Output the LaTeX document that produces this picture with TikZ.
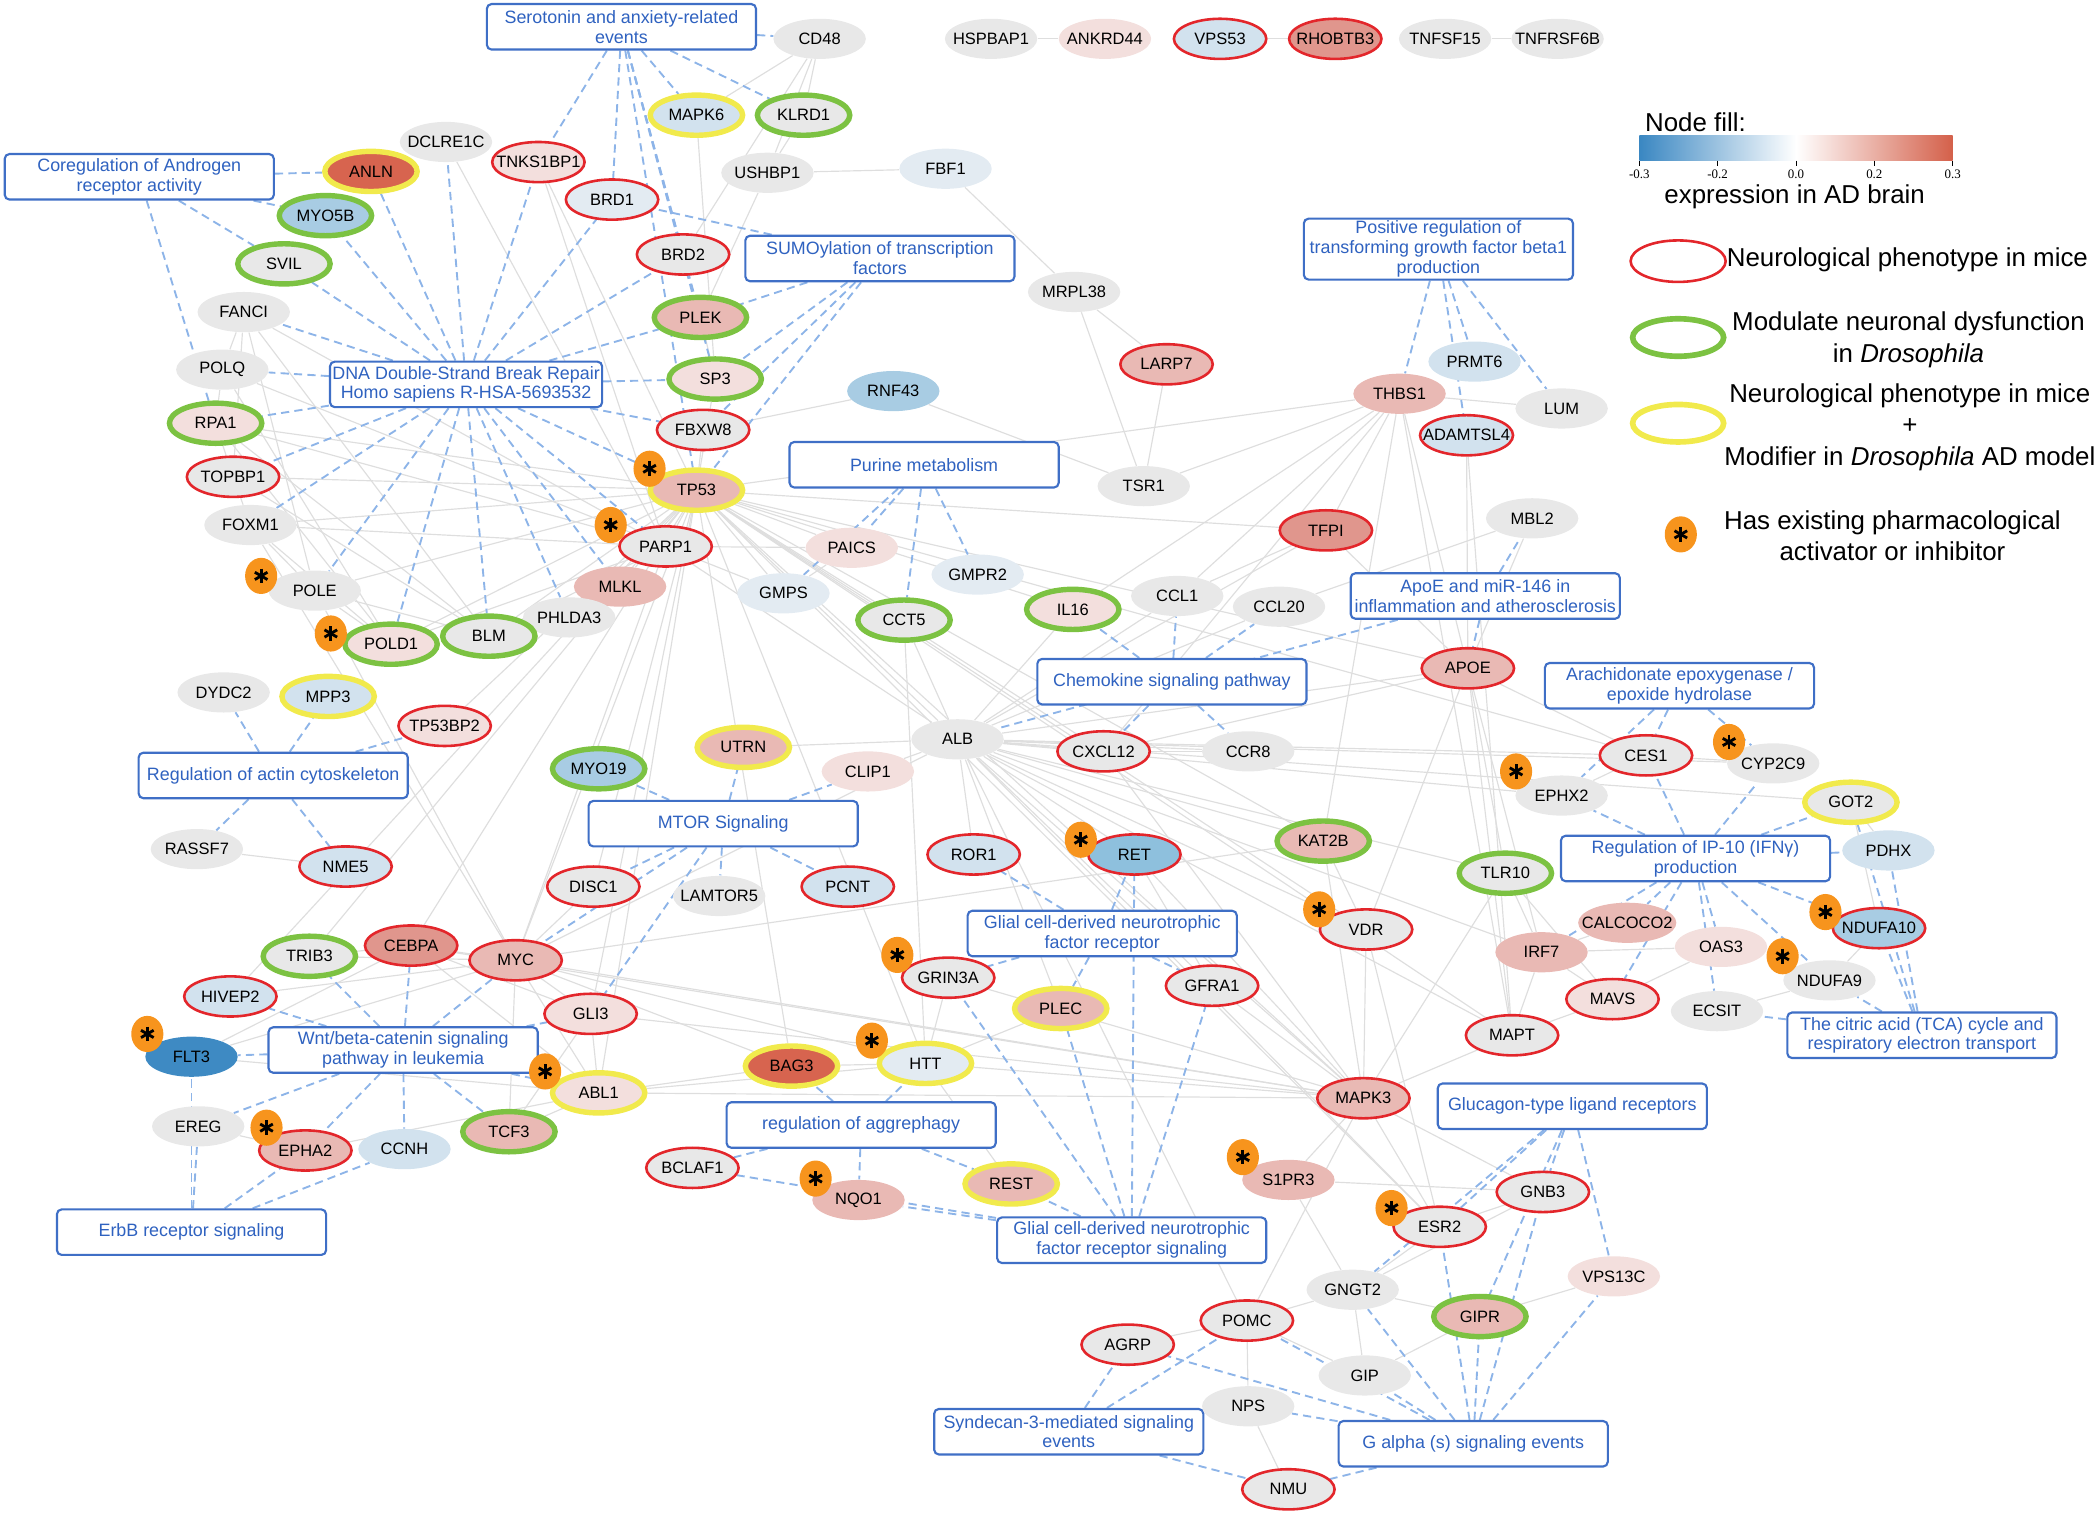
\documentclass[tikz,border=0pt]{standalone}
\usepackage{fontspec}
\setmainfont{Liberation Sans}
\newfontfamily\tickfont{Liberation Serif}
\usetikzlibrary{shapes.geometric,backgrounds}

\definecolor{cgrey}{HTML}{E8E8E8}
\definecolor{cvlb}{HTML}{E3EBF2}
\definecolor{clb}{HTML}{D2E2EE}
\definecolor{cblue}{HTML}{A8CCE3}
\definecolor{cmb}{HTML}{8EC0DD}
\definecolor{cdb}{HTML}{3E8AC3}
\definecolor{clp}{HTML}{F3DFDD}
\definecolor{cpink}{HTML}{E9B9B4}
\definecolor{cdp}{HTML}{E0968D}
\definecolor{cred}{HTML}{D7644F}
\definecolor{cmice}{HTML}{E3262B}
\definecolor{cfly}{HTML}{7CC242}
\definecolor{cboth}{HTML}{F1EA4C}
\definecolor{corange}{HTML}{F7941D}
\definecolor{cbox}{HTML}{3F6FC6}
\definecolor{cboxtext}{HTML}{2F62C0}
\definecolor{cdash}{HTML}{8DB4E8}
\definecolor{cppi}{HTML}{DEDEDE}
\definecolor{cbarblue}{HTML}{3A87C2}
\definecolor{cbarred}{HTML}{D4604A}

\tikzset{
  gene/.style={ellipse, minimum width=1.38cm, minimum height=0.6cm, inner xsep=-4.5pt, inner ysep=0pt, font=\fontsize{7}{8}\selectfont},
  mice/.style={draw=cmice, line width=1.1pt},
  fly/.style={draw=cfly, line width=2.3pt},
  mifly/.style={draw=cboth, line width=2.3pt},
  drug/.style={ellipse, fill=corange, minimum width=0.48cm, minimum height=0.54cm, inner sep=0pt,
    path picture={\foreach \a in {90,30,-30}
      \draw[line width=1.2pt] (path picture bounding box.center) ++(\a:3.1pt) -- ++(\a+180:6.2pt);}},
  pw/.style={draw=cbox, line width=0.9pt, rounded corners=2pt, fill=white, minimum width=4.02cm, minimum height=0.68cm, inner sep=1pt, align=center, text=cboxtext, font=\fontsize{7.6}{8.4}\selectfont},
  ppi/.style={draw=cppi, line width=0.5pt},
  memb/.style={draw=cdash, line width=0.8pt, dash pattern=on 3.5pt off 2.2pt},
  legtext/.style={inner sep=0pt, font=\fontsize{11}{13.5}\selectfont},
}

\begin{document}
\begin{tikzpicture}[x=0.02cm, y=-0.02cm]
\useasboundingbox (0,0) rectangle (1568,1133);

% pathways
\node[pw] (pSer) at (464,20) {Serotonin and anxiety-related\\events};
\node[pw] (pAndr) at (104,132) {Coregulation of Androgen\\receptor activity};
\node[pw] (pDsb) at (348,287) {DNA Double-Strand Break Repair\\Homo sapiens R-HSA-5693532};
\node[pw] (pSumo) at (657,193) {SUMOylation of transcription\\factors};
\node[pw] (pPur) at (690,347) {Purine metabolism};
\node[pw, minimum height=0.86cm] (pTgf) at (1074,186) {Positive regulation of\\transforming growth factor beta1\\production};
\node[pw] (pApoe) at (1109,445) {ApoE and miR-146 in\\inflammation and atherosclerosis};
\node[pw] (pChem) at (875,509) {Chemokine signaling pathway};
\node[pw] (pArach) at (1254,512) {Arachidonate epoxygenase /\\epoxide hydrolase};
\node[pw] (pActin) at (204,579) {Regulation of actin cytoskeleton};
\node[pw] (pMtor) at (540,615) {MTOR Signaling};
\node[pw] (pIp) at (1266,641) {Regulation of IP-10 (IFNγ)\\production};
\node[pw] (pGdnfr) at (823,697) {Glial cell-derived neurotrophic\\factor receptor};
\node[pw] (pTca) at (1435,773) {The citric acid (TCA) cycle and\\respiratory electron transport};
\node[pw] (pWnt) at (301,784) {Wnt/beta-catenin signaling\\pathway in leukemia};
\node[pw] (pAggr) at (643,840) {regulation of aggrephagy};
\node[pw] (pGluc) at (1174,826) {Glucagon-type ligand receptors};
\node[pw] (pGdnfs) at (845,926) {Glial cell-derived neurotrophic\\factor receptor signaling};
\node[pw] (pErbb) at (143,920) {ErbB receptor signaling};
\node[pw] (pSynd) at (798,1069) {Syndecan-3-mediated signaling\\events};
\node[pw] (pGalpha) at (1100,1078) {G alpha (s) signaling events};

% genes
\node[gene, fill=cgrey] (CD48) at (612,29) {CD48};
\node[gene, fill=cgrey] (HSPBAP1) at (740,29) {HSPBAP1};
\node[gene, fill=clp] (ANKRD44) at (825,29) {ANKRD44};
\node[gene, fill=clb, mice] (VPS53) at (911,29) {VPS53};
\node[gene, fill=cdp, mice] (RHOBTB3) at (997,29) {RHOBTB3};
\node[gene, fill=cgrey] (TNFSF15) at (1079,29) {TNFSF15};
\node[gene, fill=cgrey] (TNFRSF6B) at (1163,29) {TNFRSF6B};
\node[gene, fill=clb, mifly] (MAPK6) at (520,86) {MAPK6};
\node[gene, fill=cgrey, fly] (KLRD1) at (600,86) {KLRD1};
\node[gene, fill=cgrey] (DCLRE1C) at (333,106) {DCLRE1C};
\node[gene, fill=cred, mifly] (ANLN) at (277,128) {ANLN};
\node[gene, fill=clp, mice] (TNKS1BP1) at (402,121) {TNKS1BP1};
\node[gene, fill=cgrey] (USHBP1) at (573,129) {USHBP1};
\node[gene, fill=cvlb] (FBF1) at (706,126) {FBF1};
\node[gene, fill=cvlb, mice] (BRD1) at (457,149) {BRD1};
\node[gene, fill=cblue, fly] (MYO5B) at (243,161) {MYO5B};
\node[gene, fill=cgrey, mice] (BRD2) at (510,190) {BRD2};
\node[gene, fill=cgrey, fly] (SVIL) at (212,197) {SVIL};
\node[gene, fill=cgrey] (FANCI) at (182,233) {FANCI};
\node[gene, fill=cpink, fly] (PLEK) at (523,237) {PLEK};
\node[gene, fill=cgrey] (MRPL38) at (802,218) {MRPL38};
\node[gene, fill=cpink, mice] (LARP7) at (871,272) {LARP7};
\node[gene, fill=cgrey] (POLQ) at (166,276) {POLQ};
\node[gene, fill=clp, fly] (SP3) at (534,283) {SP3};
\node[gene, fill=cblue] (RNF43) at (667,292) {RNF43};
\node[gene, fill=clb] (PRMT6) at (1101,270) {PRMT6};
\node[gene, fill=cpink] (THBS1) at (1045,294) {THBS1};
\node[gene, fill=cgrey] (LUM) at (1166,305) {LUM};
\node[gene, fill=clb, mice] (ADAMTSL4) at (1095,325) {ADAMTSL4};
\node[gene, fill=clp, fly] (RPA1) at (161,316) {RPA1};
\node[gene, fill=cgrey, mice] (FBXW8) at (525,321) {FBXW8};
\node[gene, fill=cgrey, mice] (TOPBP1) at (174,356) {TOPBP1};
\node[gene, fill=cpink, mifly] (TP53) at (520,366) {TP53};
\node[gene, fill=cgrey] (TSR1) at (854,363) {TSR1};
\node[gene, fill=cgrey] (FOXM1) at (187,392) {FOXM1};
\node[gene, fill=cgrey, mice] (PARP1) at (497,408) {PARP1};
\node[gene, fill=cgrey] (MBL2) at (1144,387) {MBL2};
\node[gene, fill=cdp, mice] (TFPI) at (990,396) {TFPI};
\node[gene, fill=clp] (PAICS) at (636,409) {PAICS};
\node[gene, fill=cvlb] (GMPR2) at (730,429) {GMPR2};
\node[gene, fill=cgrey] (POLE) at (235,441) {POLE};
\node[gene, fill=cpink] (MLKL) at (463,438) {MLKL};
\node[gene, fill=cvlb] (GMPS) at (585,443) {GMPS};
\node[gene, fill=cgrey] (PHLDA3) at (425,461) {PHLDA3};
\node[gene, fill=clp, fly] (IL16) at (801,455) {IL16};
\node[gene, fill=cgrey] (CCL1) at (879,445) {CCL1};
\node[gene, fill=cgrey] (CCL20) at (955,453) {CCL20};
\node[gene, fill=cgrey, fly] (CCT5) at (675,463) {CCT5};
\node[gene, fill=clp, fly] (POLD1) at (292,481) {POLD1};
\node[gene, fill=cgrey, fly] (BLM) at (365,475) {BLM};
\node[gene, fill=cpink, mice] (APOE) at (1096,499) {APOE};
\node[gene, fill=cgrey] (DYDC2) at (167,517) {DYDC2};
\node[gene, fill=clb, mifly] (MPP3) at (245,520) {MPP3};
\node[gene, fill=clp, mice] (TP53BP2) at (332,542) {TP53BP2};
\node[gene, fill=cgrey] (ALB) at (715,552) {ALB};
\node[gene, fill=cpink, mifly] (UTRN) at (555,558) {UTRN};
\node[gene, fill=cgrey, mice] (CXCL12) at (824,561) {CXCL12};
\node[gene, fill=cgrey] (CCR8) at (932,561) {CCR8};
\node[gene, fill=cgrey, mice] (CES1) at (1229,564) {CES1};
\node[gene, fill=cgrey] (CYP2C9) at (1324,570) {CYP2C9};
\node[gene, fill=cblue, fly] (MYO19) at (447,574) {MYO19};
\node[gene, fill=clp] (CLIP1) at (648,576) {CLIP1};
\node[gene, fill=cgrey] (EPHX2) at (1166,594) {EPHX2};
\node[gene, fill=cgrey, mifly] (GOT2) at (1382,599) {GOT2};
\node[gene, fill=cgrey] (RASSF7) at (147,634) {RASSF7};
\node[gene, fill=clb, mice] (NME5) at (258,647) {NME5};
\node[gene, fill=clb, mice] (ROR1) at (727,638) {ROR1};
\node[gene, fill=cmb, mice] (RET) at (847,638) {RET};
\node[gene, fill=cpink, fly] (KAT2B) at (988,628) {KAT2B};
\node[gene, fill=clb] (PDHX) at (1410,635) {PDHX};
\node[gene, fill=cgrey, fly] (TLR10) at (1124,652) {TLR10};
\node[gene, fill=cgrey, mice] (DISC1) at (443,662) {DISC1};
\node[gene, fill=cgrey] (LAMTOR5) at (537,669) {LAMTOR5};
\node[gene, fill=clb, mice] (PCNT) at (633,662) {PCNT};
\node[gene, fill=cgrey, mice] (VDR) at (1020,694) {VDR};
\node[gene, fill=cblue, mice] (NDUFA10) at (1403,693) {NDUFA10};
\node[gene, fill=cpink] (CALCOCO2) at (1215,689) {CALCOCO2};
\node[gene, fill=cpink] (IRF7) at (1151,711) {IRF7};
\node[gene, fill=clp] (OAS3) at (1285,707) {OAS3};
\node[gene, fill=cgrey] (NDUFA9) at (1366,732) {NDUFA9};
\node[gene, fill=cgrey, fly] (TRIB3) at (231,714) {TRIB3};
\node[gene, fill=cdp, mice] (CEBPA) at (307,706) {CEBPA};
\node[gene, fill=cpink, mice] (MYC) at (385,717) {MYC};
\node[gene, fill=cgrey, mice] (GRIN3A) at (708,730) {GRIN3A};
\node[gene, fill=cgrey, mice] (GFRA1) at (905,736) {GFRA1};
\node[gene, fill=clb, mice] (HIVEP2) at (172,744) {HIVEP2};
\node[gene, fill=clp, mice] (MAVS) at (1204,746) {MAVS};
\node[gene, fill=cgrey] (ECSIT) at (1282,755) {ECSIT};
\node[gene, fill=cpink, mifly] (PLEC) at (792,753) {PLEC};
\node[gene, fill=clp, mice] (GLI3) at (441,757) {GLI3};
\node[gene, fill=cgrey, mice] (MAPT) at (1129,773) {MAPT};
\node[gene, fill=cdb] (FLT3) at (143,789) {FLT3};
\node[gene, fill=cvlb, mifly] (HTT) at (691,794) {HTT};
\node[gene, fill=cred, mifly] (BAG3) at (591,796) {BAG3};
\node[gene, fill=clp, mifly] (ABL1) at (447,816) {ABL1};
\node[gene, fill=cpink, mice] (MAPK3) at (1018,820) {MAPK3};
\node[gene, fill=cgrey] (EREG) at (148,841) {EREG};
\node[gene, fill=cpink, mice] (EPHA2) at (228,859) {EPHA2};
\node[gene, fill=clb] (CCNH) at (302,858) {CCNH};
\node[gene, fill=cpink, fly] (TCF3) at (380,845) {TCF3};
\node[gene, fill=cgrey, mice] (BCLAF1) at (517,872) {BCLAF1};
\node[gene, fill=cpink] (NQO1) at (641,896) {NQO1};
\node[gene, fill=cpink, mifly] (REST) at (755,884) {REST};
\node[gene, fill=cpink] (S1PR3) at (962,881) {S1PR3};
\node[gene, fill=cgrey, mice] (GNB3) at (1152,890) {GNB3};
\node[gene, fill=cgrey, mice] (ESR2) at (1075,916) {ESR2};
\node[gene, fill=clp] (VPS13C) at (1205,953) {VPS13C};
\node[gene, fill=cgrey] (GNGT2) at (1010,963) {GNGT2};
\node[gene, fill=cpink, fly] (GIPR) at (1105,983) {GIPR};
\node[gene, fill=cgrey, mice] (POMC) at (931,986) {POMC};
\node[gene, fill=cgrey, mice] (AGRP) at (842,1004) {AGRP};
\node[gene, fill=cgrey] (GIP) at (1019,1027) {GIP};
\node[gene, fill=cgrey] (NPS) at (932,1050) {NPS};
\node[gene, fill=cgrey, mice] (NMU) at (962,1112) {NMU};

% drug marks
\node[drug] (dTP53) at (485,350) {};
\node[drug] (dPARP1) at (456,392) {};
\node[drug] (dPOLE) at (195,430) {};
\node[drug] (dPOLD1) at (247,473) {};
\node[drug] (dRET) at (807,627) {};
\node[drug] (dGRIN3A) at (670,713) {};
\node[drug] (dVDR) at (985,679) {};
\node[drug] (dCYP2C9) at (1291,554) {};
\node[drug] (dEPHX2) at (1132,576) {};
\node[drug] (dNDUFA10) at (1363,681) {};
\node[drug] (dNDUFA9) at (1331,714) {};
\node[drug] (dFLT3) at (110,772) {};
\node[drug] (dABL1) at (407,800) {};
\node[drug] (dEPHA2) at (199,842) {};
\node[drug] (dHTT) at (651,777) {};
\node[drug] (dNQO1) at (609,880) {};
\node[drug] (dS1PR3) at (928,864) {};
\node[drug] (dESR2) at (1039,902) {};

\begin{pgfonlayer}{background}
% interactions
\draw[ppi] (HSPBAP1) -- (ANKRD44);
\draw[ppi] (VPS53) -- (RHOBTB3);
\draw[ppi] (TNFSF15) -- (TNFRSF6B);
\draw[ppi] (CD48) -- (MAPK6); \draw[ppi] (CD48) -- (KLRD1); \draw[ppi] (CD48) -- (USHBP1); \draw[ppi] (CD48) -- (BRD2);
\draw[ppi] (KLRD1) -- (USHBP1); \draw[ppi] (USHBP1) -- (FBF1); \draw[ppi] (USHBP1) -- (PLEK); \draw[ppi] (MAPK6) -- (SP3);
\draw[ppi] (FBF1) -- (MRPL38); \draw[ppi] (MRPL38) -- (LARP7); \draw[ppi] (MRPL38) -- (TSR1); \draw[ppi] (LARP7) -- (TSR1);
\draw[ppi] (RNF43) -- (FBXW8); \draw[ppi] (RNF43) -- (TSR1);
\draw[ppi] (TSR1) -- (THBS1); \draw[ppi] (TP53) -- (THBS1); \draw[ppi] (THBS1) -- (LUM); \draw[ppi] (THBS1) -- (TFPI);
\draw[ppi] (THBS1) -- (CCL1); \draw[ppi] (THBS1) -- (IL16); \draw[ppi] (THBS1) -- (CXCL12); \draw[ppi] (THBS1) -- (APOE);
\draw[ppi] (THBS1) -- (MAPT); \draw[ppi] (THBS1) -- (KAT2B);
\draw[ppi] (ADAMTSL4) -- (APOE); \draw[ppi] (ADAMTSL4) -- (MAPT);
\draw[ppi] (MBL2) -- (APOE); \draw[ppi] (MBL2) -- (CCL20); \draw[ppi] (TFPI) -- (CCL1); \draw[ppi] (TFPI) -- (ALB); \draw[ppi] (TFPI) -- (APOE);
\draw[ppi] (DCLRE1C) -- (PARP1); \draw[ppi] (TNKS1BP1) -- (TP53); \draw[ppi] (TNKS1BP1) -- (PARP1);
\draw[ppi] (SP3) -- (TP53); \draw[ppi] (FBXW8) -- (TP53); \draw[ppi] (PLEK) -- (SP3);
\draw[ppi] (FANCI) -- (POLQ); \draw[ppi] (FANCI) -- (BLM); \draw[ppi] (FANCI) -- (TOPBP1); \draw[ppi] (FANCI) -- (POLE); \draw[ppi] (FANCI) -- (PARP1);
\draw[ppi] (POLQ) -- (RPA1); \draw[ppi] (POLQ) -- (PARP1); \draw[ppi] (POLQ) -- (POLD1);
\draw[ppi] (RPA1) -- (TOPBP1); \draw[ppi] (RPA1) -- (POLD1); \draw[ppi] (RPA1) -- (TP53); \draw[ppi] (RPA1) -- (BLM); \draw[ppi] (RPA1) -- (PARP1);
\draw[ppi] (TOPBP1) -- (FOXM1); \draw[ppi] (TOPBP1) -- (TP53); \draw[ppi] (TOPBP1) -- (BLM);
\draw[ppi] (FOXM1) -- (POLE); \draw[ppi] (FOXM1) -- (MYC); \draw[ppi] (FOXM1) -- (TP53); \draw[ppi] (FOXM1) -- (PARP1); \draw[ppi] (FOXM1) -- (POLD1);
\draw[ppi] (POLE) -- (POLD1); \draw[ppi] (POLE) -- (BLM); \draw[ppi] (POLE) -- (TP53); \draw[ppi] (POLE) -- (MYC);
\draw[ppi] (POLD1) -- (PARP1); \draw[ppi] (POLD1) -- (TP53); \draw[ppi] (BLM) -- (TP53); \draw[ppi] (BLM) -- (PARP1);
\draw[ppi] (PHLDA3) -- (TP53); \draw[ppi] (MLKL) -- (TP53); \draw[ppi] (PARP1) -- (TP53);
\draw[ppi] (TP53) -- (PAICS); \draw[ppi] (TP53) -- (GMPS); \draw[ppi] (TP53) -- (CCT5); \draw[ppi] (TP53) -- (ALB);
\draw[ppi] (TP53) -- (MYC); \draw[ppi] (TP53) -- (CEBPA); \draw[ppi] (TP53) -- (TP53BP2); \draw[ppi] (TP53) -- (KAT2B);
\draw[ppi] (TP53) -- (MAPK3); \draw[ppi] (TP53) -- (APOE); \draw[ppi] (TP53) -- (VDR); \draw[ppi] (TP53) -- (GLI3);
\draw[ppi] (TP53) -- (ABL1); \draw[ppi] (TP53) -- (HTT); \draw[ppi] (TP53) -- (BAG3); \draw[ppi] (TP53) -- (CXCL12);
\draw[ppi] (TP53) -- (IL16); \draw[ppi] (TP53) -- (DISC1); \draw[ppi] (TP53) -- (TRIB3); \draw[ppi] (TP53) -- (HIVEP2);
\draw[ppi] (TP53) -- (ESR2); \draw[ppi] (TP53) -- (MAPT); \draw[ppi] (TP53) -- (CES1); \draw[ppi] (TP53) -- (TFPI);
\draw[ppi] (PARP1) -- (PAICS); \draw[ppi] (PARP1) -- (GMPS); \draw[ppi] (PARP1) -- (ALB); \draw[ppi] (PARP1) -- (MYC);
\draw[ppi] (PAICS) -- (GMPS); \draw[ppi] (CCT5) -- (ALB); \draw[ppi] (CCT5) -- (HTT);
\draw[ppi] (ALB) -- (CCL1); \draw[ppi] (ALB) -- (CCL20); \draw[ppi] (ALB) -- (IL16); \draw[ppi] (ALB) -- (CXCL12);
\draw[ppi] (ALB) -- (CCR8); \draw[ppi] (ALB) -- (APOE); \draw[ppi] (ALB) -- (CES1); \draw[ppi] (ALB) -- (CYP2C9);
\draw[ppi] (ALB) -- (EPHX2); \draw[ppi] (ALB) -- (GOT2); \draw[ppi] (ALB) -- (KAT2B); \draw[ppi] (ALB) -- (VDR);
\draw[ppi] (ALB) -- (RET); \draw[ppi] (ALB) -- (ROR1); \draw[ppi] (ALB) -- (GFRA1); \draw[ppi] (ALB) -- (MAPK3);
\draw[ppi] (ALB) -- (MAPT); \draw[ppi] (ALB) -- (IRF7); \draw[ppi] (ALB) -- (MYC); \draw[ppi] (ALB) -- (CLIP1);
\draw[ppi] (ALB) -- (UTRN); \draw[ppi] (ALB) -- (TLR10); \draw[ppi] (ALB) -- (ESR2); \draw[ppi] (ALB) -- (POMC); \draw[ppi] (ALB) -- (PLEC);
\draw[ppi] (CXCL12) -- (CCR8); \draw[ppi] (CXCL12) -- (APOE); \draw[ppi] (CXCL12) -- (MAPK3);
\draw[ppi] (APOE) -- (MAPT); \draw[ppi] (APOE) -- (TLR10); \draw[ppi] (APOE) -- (IRF7); \draw[ppi] (APOE) -- (CES1); \draw[ppi] (APOE) -- (VDR);
\draw[ppi] (CES1) -- (CYP2C9); \draw[ppi] (CES1) -- (EPHX2); \draw[ppi] (GOT2) -- (PDHX); \draw[ppi] (GOT2) -- (NDUFA10);
\draw[ppi] (NDUFA10) -- (NDUFA9); \draw[ppi] (NDUFA9) -- (ECSIT); \draw[ppi] (OAS3) -- (IRF7); \draw[ppi] (OAS3) -- (MAVS);
\draw[ppi] (IRF7) -- (MAVS); \draw[ppi] (IRF7) -- (CALCOCO2); \draw[ppi] (TLR10) -- (IRF7); \draw[ppi] (TLR10) -- (MAVS);
\draw[ppi] (MAVS) -- (MAPT); \draw[ppi] (TLR10) -- (MAPK3); \draw[ppi] (IRF7) -- (MAPT);
\draw[ppi] (KAT2B) -- (VDR); \draw[ppi] (KAT2B) -- (MAPK3); \draw[ppi] (KAT2B) -- (MYC); \draw[ppi] (VDR) -- (MAPK3); \draw[ppi] (VDR) -- (ESR2);
\draw[ppi] (MYC) -- (CEBPA); \draw[ppi] (MYC) -- (TRIB3); \draw[ppi] (MYC) -- (GLI3); \draw[ppi] (MYC) -- (TCF3);
\draw[ppi] (MYC) -- (ABL1); \draw[ppi] (MYC) -- (MAPK3); \draw[ppi] (MYC) -- (HIVEP2); \draw[ppi] (MYC) -- (FLT3);
\draw[ppi] (MYC) -- (DISC1); \draw[ppi] (MYC) -- (BAG3); \draw[ppi] (MYC) -- (HTT);
\draw[ppi] (CEBPA) -- (TRIB3); \draw[ppi] (CEBPA) -- (GLI3); \draw[ppi] (CEBPA) -- (ABL1); \draw[ppi] (CEBPA) -- (FLT3); \draw[ppi] (CEBPA) -- (MAPK3);
\draw[ppi] (GLI3) -- (ABL1); \draw[ppi] (GLI3) -- (TCF3); \draw[ppi] (GLI3) -- (MAPK3);
\draw[ppi] (ABL1) -- (TCF3); \draw[ppi] (ABL1) -- (MAPK3); \draw[ppi] (ABL1) -- (BAG3); \draw[ppi] (ABL1) -- (HTT);
\draw[ppi] (ABL1) -- (EPHA2); \draw[ppi] (ABL1) -- (FLT3);
\draw[ppi] (EREG) -- (EPHA2); \draw[ppi] (RASSF7) -- (NME5);
\draw[ppi] (BAG3) -- (HTT); \draw[ppi] (HTT) -- (PLEC); \draw[ppi] (HTT) -- (REST); \draw[ppi] (HTT) -- (MAPK3); \draw[ppi] (HTT) -- (GRIN3A);
\draw[ppi] (GRIN3A) -- (MAPK3); \draw[ppi] (GFRA1) -- (RET); \draw[ppi] (GFRA1) -- (MAPK3); \draw[ppi] (RET) -- (MAPK3);
\draw[ppi] (MAPK3) -- (S1PR3); \draw[ppi] (MAPK3) -- (ESR2); \draw[ppi] (MAPK3) -- (MAPT); \draw[ppi] (MAPK3) -- (GNB3); \draw[ppi] (MAPK3) -- (POMC);
\draw[ppi] (S1PR3) -- (GNGT2); \draw[ppi] (S1PR3) -- (GNB3);
\draw[ppi] (ESR2) -- (GNB3); \draw[ppi] (ESR2) -- (GNGT2); \draw[ppi] (GIPR) -- (VPS13C);
\draw[ppi] (GNGT2) -- (GNB3); \draw[ppi] (GNGT2) -- (POMC); \draw[ppi] (GNGT2) -- (GIP); \draw[ppi] (GNGT2) -- (GIPR);
\draw[ppi] (GIP) -- (POMC); \draw[ppi] (GIP) -- (GIPR); \draw[ppi] (POMC) -- (AGRP); \draw[ppi] (POMC) -- (NPS); \draw[ppi] (NPS) -- (NMU);

% pathway members
\draw[memb] (pSer) -- (MAPK6); \draw[memb] (pSer) -- (KLRD1); \draw[memb] (pSer) -- (CD48); \draw[memb] (pSer) -- (TNKS1BP1);
\draw[memb] (pSer) -- (BRD1); \draw[memb] (pSer) -- (BRD2); \draw[memb] (pSer) -- (PLEK); \draw[memb] (pSer) -- (SP3); \draw[memb] (pSer) -- (TP53);
\draw[memb] (pAndr) -- (ANLN); \draw[memb] (pAndr) -- (MYO5B); \draw[memb] (pAndr) -- (SVIL); \draw[memb] (pAndr) -- (RPA1);
\draw[memb] (pDsb) -- (DCLRE1C); \draw[memb] (pDsb) -- (ANLN); \draw[memb] (pDsb) -- (MYO5B); \draw[memb] (pDsb) -- (SVIL);
\draw[memb] (pDsb) -- (FANCI); \draw[memb] (pDsb) -- (POLQ); \draw[memb] (pDsb) -- (RPA1); \draw[memb] (pDsb) -- (TOPBP1);
\draw[memb] (pDsb) -- (TNKS1BP1); \draw[memb] (pDsb) -- (BRD1); \draw[memb] (pDsb) -- (BRD2); \draw[memb] (pDsb) -- (PLEK);
\draw[memb] (pDsb) -- (SP3); \draw[memb] (pDsb) -- (FBXW8); \draw[memb] (pDsb) -- (TP53); \draw[memb] (pDsb) -- (PARP1);
\draw[memb] (pDsb) -- (MLKL); \draw[memb] (pDsb) -- (PHLDA3); \draw[memb] (pDsb) -- (BLM); \draw[memb] (pDsb) -- (POLD1);
\draw[memb] (pDsb) -- (POLE); \draw[memb] (pDsb) -- (FOXM1);
\draw[memb] (pSumo) -- (BRD1); \draw[memb] (pSumo) -- (PLEK); \draw[memb] (pSumo) -- (SP3); \draw[memb] (pSumo) -- (FBXW8); \draw[memb] (pSumo) -- (TP53);
\draw[memb] (pPur) -- (PAICS); \draw[memb] (pPur) -- (GMPS); \draw[memb] (pPur) -- (CCT5); \draw[memb] (pPur) -- (GMPR2);
\draw[memb] (pTgf) -- (THBS1); \draw[memb] (pTgf) -- (PRMT6); \draw[memb] (pTgf) -- (ADAMTSL4); \draw[memb] (pTgf) -- (LUM);
\draw[memb] (pApoe) -- (MBL2); \draw[memb] (pApoe) -- (APOE); \draw[memb] (pApoe) -- (ALB);
\draw[memb] (pChem) -- (IL16); \draw[memb] (pChem) -- (CCL1); \draw[memb] (pChem) -- (CCL20); \draw[memb] (pChem) -- (CXCL12); \draw[memb] (pChem) -- (CCR8);
\draw[memb] (pArach) -- (CES1); \draw[memb] (pArach) -- (EPHX2); \draw[memb] (pArach) -- (CYP2C9);
\draw[memb] (pIp) -- (EPHX2); \draw[memb] (pIp) -- (CES1); \draw[memb] (pIp) -- (CYP2C9); \draw[memb] (pIp) -- (GOT2);
\draw[memb] (pIp) -- (PDHX); \draw[memb] (pIp) -- (CALCOCO2); \draw[memb] (pIp) -- (IRF7); \draw[memb] (pIp) -- (OAS3);
\draw[memb] (pIp) -- (MAVS); \draw[memb] (pIp) -- (ECSIT); \draw[memb] (pIp) -- (NDUFA9); \draw[memb] (pIp) -- (NDUFA10);
\draw[memb] (pTca) -- (GOT2); \draw[memb] (pTca) -- (PDHX); \draw[memb] (pTca) -- (NDUFA10); \draw[memb] (pTca) -- (NDUFA9); \draw[memb] (pTca) -- (ECSIT);
\draw[memb] (pActin) -- (DYDC2); \draw[memb] (pActin) -- (MPP3); \draw[memb] (pActin) -- (TP53BP2); \draw[memb] (pActin) -- (RASSF7); \draw[memb] (pActin) -- (NME5);
\draw[memb] (pMtor) -- (MYO19); \draw[memb] (pMtor) -- (UTRN); \draw[memb] (pMtor) -- (CLIP1); \draw[memb] (pMtor) -- (DISC1);
\draw[memb] (pMtor) -- (LAMTOR5); \draw[memb] (pMtor) -- (PCNT); \draw[memb] (pMtor) -- (GLI3); \draw[memb] (pMtor) -- (MYC);
\draw[memb] (pGdnfr) -- (ROR1); \draw[memb] (pGdnfr) -- (RET); \draw[memb] (pGdnfr) -- (GRIN3A); \draw[memb] (pGdnfr) -- (PLEC); \draw[memb] (pGdnfr) -- (GFRA1);
\draw[memb] (pGdnfs) -- (RET); \draw[memb] (pGdnfs) -- (GRIN3A); \draw[memb] (pGdnfs) -- (PLEC); \draw[memb] (pGdnfs) -- (GFRA1);
\draw[memb] (pGdnfs) -- (REST); \draw[memb] (pGdnfs) -- (NQO1); \draw[memb] (pGdnfs) -- (BCLAF1);
\draw[memb] (pAggr) -- (BAG3); \draw[memb] (pAggr) -- (HTT); \draw[memb] (pAggr) -- (BCLAF1); \draw[memb] (pAggr) -- (NQO1); \draw[memb] (pAggr) -- (REST);
\draw[memb] (pWnt) -- (FLT3); \draw[memb] (pWnt) -- (HIVEP2); \draw[memb] (pWnt) -- (TRIB3); \draw[memb] (pWnt) -- (CEBPA);
\draw[memb] (pWnt) -- (MYC); \draw[memb] (pWnt) -- (GLI3); \draw[memb] (pWnt) -- (ABL1); \draw[memb] (pWnt) -- (TCF3);
\draw[memb] (pWnt) -- (CCNH); \draw[memb] (pWnt) -- (EPHA2); \draw[memb] (pWnt) -- (EREG);
\draw[memb] (pErbb) -- (EREG); \draw[memb] (pErbb) -- (FLT3); \draw[memb] (pErbb) -- (EPHA2); \draw[memb] (pErbb) -- (CCNH);
\draw[memb] (pGluc) -- (ESR2); \draw[memb] (pGluc) -- (GNB3); \draw[memb] (pGluc) -- (GIPR); \draw[memb] (pGluc) -- (VPS13C); \draw[memb] (pGluc) -- (GNGT2);
\draw[memb] (pGalpha) -- (GIPR); \draw[memb] (pGalpha) -- (GNB3); \draw[memb] (pGalpha) -- (GNGT2); \draw[memb] (pGalpha) -- (GIP);
\draw[memb] (pGalpha) -- (NPS); \draw[memb] (pGalpha) -- (AGRP); \draw[memb] (pGalpha) -- (POMC); \draw[memb] (pGalpha) -- (NMU);
\draw[memb] (pGalpha) -- (VPS13C); \draw[memb] (pGalpha) -- (ESR2);
\draw[memb] (pSynd) -- (AGRP); \draw[memb] (pSynd) -- (POMC); \draw[memb] (pSynd) -- (NMU);
\end{pgfonlayer}

% legend
\node[legtext, anchor=west] (legfill) at (1228,91) {Node fill:};
\shade[left color=cbarblue, right color=cbarred, middle color=white] (1224,101) rectangle (1458,120);
\foreach \x/\t [count=\i] in {1224/-0.3, 1282.5/-0.2, 1341/0.0, 1399.5/0.2, 1458/0.3} {
  \draw[line width=0.4pt] (\x,120) -- (\x,124);
  \node[inner sep=0pt, font=\tickfont\fontsize{5.5}{6}\selectfont] (tick\i) at (\x,130.5) {\t};
}
\node[legtext] (legexpr) at (1340,147) {expression in AD brain};
\node[ellipse, draw=cmice, line width=1.1pt, minimum width=1.42cm, minimum height=0.62cm] (legmice) at (1253,195) {};
\node[ellipse, draw=cfly, line width=2.4pt, minimum width=1.36cm, minimum height=0.56cm] (legfly) at (1253,252) {};
\node[ellipse, draw=cboth, line width=2.4pt, minimum width=1.36cm, minimum height=0.56cm] (legboth) at (1253,316) {};
\node[drug] (legdrug) at (1255,399) {};
\node[legtext, anchor=west] (legmicetext) at (1289,194) {Neurological phenotype in mice};
\node[legtext, align=center] (legflytext) at (1425,254) {Modulate neuronal dysfunction\\in \textit{Drosophila}};
\node[legtext, align=center] (legbothtext) at (1426,319) {Neurological phenotype in mice\\+\\Modifier in \textit{Drosophila} AD model};
\node[legtext, align=center] (legdrugtext) at (1413,400) {Has existing pharmacological\\activator or inhibitor};
\end{tikzpicture}
\end{document}
